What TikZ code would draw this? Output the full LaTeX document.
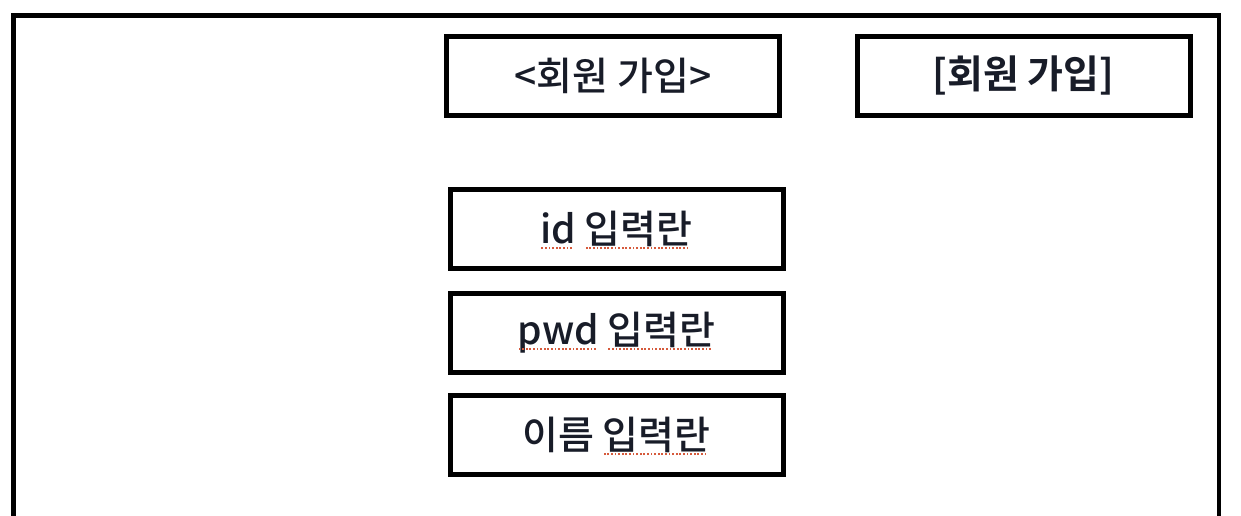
\documentclass[tikz,border=0pt]{standalone}
\usepackage{fontspec}
\setmainfont{Noto Sans CJK KR}[UprightFont=* Medium, BoldFont=* Bold]
\definecolor{txt}{RGB}{24,28,40}
\definecolor{ulred}{RGB}{214,90,60}
\newcommand\redul[1]{\sbox0{#1}\rlap{\usebox0}\raisebox{-5.5pt}[0pt][0pt]{\color{ulred}\leaders\hbox to 3.6pt{\hss\rule{1.8pt}{1.8pt}\hss}\hskip\wd0}}
\tikzset{
  uibox/.style={draw=black, line width=5pt, minimum width=333pt, minimum height=79pt,
    inner sep=0pt, text=txt, font=\fontsize{39}{42}\selectfont},
  frame/.style={draw=black, line width=4.5pt}
}
\begin{document}
\begin{tikzpicture}[x=1pt,y=-1pt]
\useasboundingbox (0,0) rectangle (1241,515);
\fill[white] (0,0) rectangle (1241,515);
\coordinate (fbl) at (13.5,530);
\coordinate (ftl) at (13.5,15.5);
\coordinate (ftr) at (1219,15.5);
\coordinate (fbr) at (1219,530);
\draw[frame] (fbl) -- (ftl) -- (ftr) -- (fbr);
\node[uibox] (join1) at (613,75.5) {<회원 가입>};
\node[uibox] (join2) at (1023.5,75.5) {\bfseries [회원 가입]};
\node[uibox] (idf) at (616.5,229) {\redul{id} \redul{입력란}};
\node[uibox] (pwdf) at (616.5,332.5) {\redul{pwd} \redul{입력란}};
\node[uibox] (namef) at (616.5,435) {이름 \redul{입력란}};
\end{tikzpicture}
\end{document}
